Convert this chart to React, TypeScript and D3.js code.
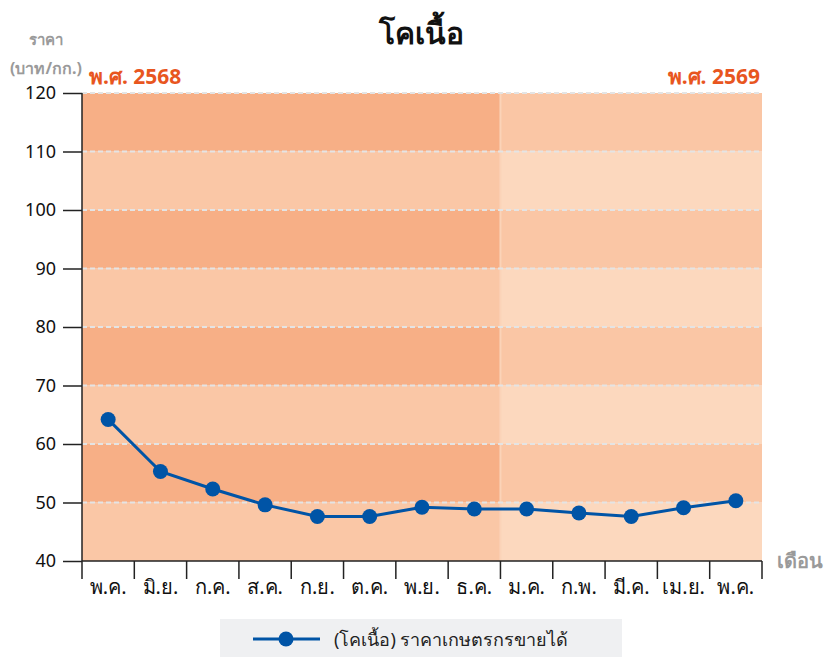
import React, { useEffect, useRef } from 'react';
import * as d3 from 'd3';

// Months (Thai abbreviations), May 2568 – May 2569
const months = ['พ.ค.', 'มิ.ย.', 'ก.ค.', 'ส.ค.', 'ก.ย.', 'ต.ค.', 'พ.ย.', 'ธ.ค.', 'ม.ค.', 'ก.พ.', 'มี.ค.', 'เม.ย.', 'พ.ค.'];
const prices = [64.2, 55.3, 52.3, 49.6, 47.6, 47.6, 49.2, 48.9, 48.9, 48.2, 47.6, 49.1, 50.3];
const yTicks = [40, 50, 60, 70, 80, 90, 100, 110, 120];
const yearLabels = ['พ.ศ. 2568', 'พ.ศ. 2569'];
const monthsInFirstYear = 8;
const seriesName = '(โคเนื้อ) ราคาเกษตรกรขายได้';

const W = 835;
const H = 657;
const FONT = '"Noto Sans", "DejaVu Sans", sans-serif';

const App: React.FC = () => {
  const svgRef = useRef<SVGSVGElement>(null);

  useEffect(() => {
    document.body.style.margin = '0';
    if (!svgRef.current) return;
    const svg = d3.select(svgRef.current);
    svg.selectAll('*').remove();

    const margin = { top: 93, right: 73, bottom: 96, left: 82 };
    const innerW = W - margin.left - margin.right;
    const innerH = H - margin.top - margin.bottom;

    const x = d3.scaleBand<number>().domain(months.map((_, i) => i)).range([0, innerW]).padding(0);
    const y = d3.scaleLinear().domain([40, 120]).range([innerH, 0]);

    const g = svg.append('g').attr('transform', `translate(${margin.left},${margin.top})`);

    // Background bands: alternating per 10 units, lighter for second year
    const splitX = x(monthsInFirstYear)!;
    const bandColors = {
      first: ['#FAC7A6', '#F7AF86'],
      second: ['#FCD8BE', '#FAC6A5'],
    };
    for (let i = 0; i < yTicks.length - 1; i++) {
      const lo = yTicks[i];
      const hi = yTicks[i + 1];
      g.append('rect')
        .attr('x', 0)
        .attr('y', y(hi))
        .attr('width', splitX)
        .attr('height', y(lo) - y(hi))
        .attr('fill', bandColors.first[i % 2]);
      g.append('rect')
        .attr('x', splitX)
        .attr('y', y(hi))
        .attr('width', innerW - splitX)
        .attr('height', y(lo) - y(hi))
        .attr('fill', bandColors.second[i % 2]);
    }
    g.append('line')
      .attr('x1', splitX)
      .attr('x2', splitX)
      .attr('y1', 0)
      .attr('y2', innerH)
      .attr('stroke', '#FBD3B8')
      .attr('stroke-width', 2);

    // Dashed grid lines
    g.selectAll('.grid')
      .data(yTicks.slice(1))
      .join('line')
      .attr('x1', 0)
      .attr('x2', innerW)
      .attr('y1', d => y(d))
      .attr('y2', d => y(d))
      .attr('stroke', '#E4E4E4')
      .attr('stroke-width', 1.8)
      .attr('stroke-dasharray', '5,3');

    // Y axis
    const yAxis = g.append('g').call(d3.axisLeft(y).tickValues(yTicks).tickSize(19).tickPadding(7));
    yAxis.select('.domain').attr('stroke', '#222').attr('stroke-width', 1.5).attr('d', `M0,0V${innerH}`);
    yAxis.selectAll('.tick line').attr('stroke', '#222').attr('stroke-width', 1.5);
    yAxis.selectAll('.tick text').attr('fill', '#111').style('font-size', '18px').style('font-family', FONT);

    // X axis: ticks at band boundaries, labels centered
    const xa = g.append('g').attr('transform', `translate(0,${innerH})`);
    xa.append('line').attr('x1', 0).attr('x2', innerW).attr('stroke', '#222').attr('stroke-width', 1.5);
    const bounds = d3.range(months.length + 1).map(i => (i === months.length ? innerW : x(i)!));
    xa.selectAll('.xt')
      .data(bounds)
      .join('line')
      .attr('x1', d => d)
      .attr('x2', d => d)
      .attr('y1', 0)
      .attr('y2', 18)
      .attr('stroke', '#222')
      .attr('stroke-width', 1.5);
    xa.selectAll('.xl')
      .data(months)
      .join('text')
      .attr('x', (_, i) => x(i)! + x.bandwidth() / 2)
      .attr('y', 33)
      .attr('text-anchor', 'middle')
      .attr('fill', '#111')
      .style('font-size', '20px')
      .style('font-family', FONT)
      .text(d => d);

    // Line + dots
    const line = d3
      .line<number>()
      .x((_, i) => x(i)! + x.bandwidth() / 2)
      .y(d => y(d));
    g.append('path')
      .datum(prices)
      .attr('fill', 'none')
      .attr('stroke', '#0054A6')
      .attr('stroke-width', 3)
      .attr('d', line);
    g.selectAll('.dot')
      .data(prices)
      .join('circle')
      .attr('cx', (_, i) => x(i)! + x.bandwidth() / 2)
      .attr('cy', d => y(d))
      .attr('r', 7.5)
      .attr('fill', '#0054A6');

    // Title
    svg.append('text')
      .attr('x', 421)
      .attr('y', 44)
      .attr('text-anchor', 'middle')
      .attr('fill', '#111')
      .style('font-size', '30px')
      .style('font-weight', '700')
      .style('font-family', FONT)
      .text('โคเนื้อ');

    // Y axis title
    svg.append('text')
      .attr('x', 46)
      .attr('y', 45)
      .attr('text-anchor', 'middle')
      .attr('fill', '#9A9A9A')
      .style('font-size', '15px')
      .style('font-weight', '700')
      .style('font-family', FONT)
      .text('ราคา');
    svg.append('text')
      .attr('x', 46)
      .attr('y', 74)
      .attr('text-anchor', 'middle')
      .attr('fill', '#9A9A9A')
      .style('font-size', '16px')
      .style('font-weight', '700')
      .style('font-family', FONT)
      .text('(บาท/กก.)');

    // Year labels
    svg.append('text')
      .attr('x', 89)
      .attr('y', 84)
      .attr('fill', '#E8561F')
      .style('font-size', '21px')
      .style('font-weight', '700')
      .style('font-family', FONT)
      .text(yearLabels[0]);
    svg.append('text')
      .attr('x', 760)
      .attr('y', 84)
      .attr('text-anchor', 'end')
      .attr('fill', '#E8561F')
      .style('font-size', '21px')
      .style('font-weight', '700')
      .style('font-family', FONT)
      .text(yearLabels[1]);

    // X axis title
    svg.append('text')
      .attr('x', 777)
      .attr('y', 568)
      .attr('fill', '#9A9A9A')
      .style('font-size', '20px')
      .style('font-weight', '700')
      .style('font-family', FONT)
      .text('เดือน');

    // Legend
    const lg = svg.append('g').attr('transform', 'translate(220,619)');
    lg.append('rect').attr('width', 402).attr('height', 38).attr('fill', '#EFF0F2');
    lg.append('line').attr('x1', 33).attr('x2', 100).attr('y1', 20).attr('y2', 20).attr('stroke', '#0054A6').attr('stroke-width', 3);
    lg.append('circle').attr('cx', 66).attr('cy', 20).attr('r', 7.5).attr('fill', '#0054A6');
    lg.append('text')
      .attr('x', 114)
      .attr('y', 27)
      .attr('fill', '#222')
      .style('font-size', '18px')
      .style('font-family', FONT)
      .text(seriesName);
  }, []);

  return <svg ref={svgRef} width={W} height={H} style={{ display: 'block' }} />;
};

export default App;
